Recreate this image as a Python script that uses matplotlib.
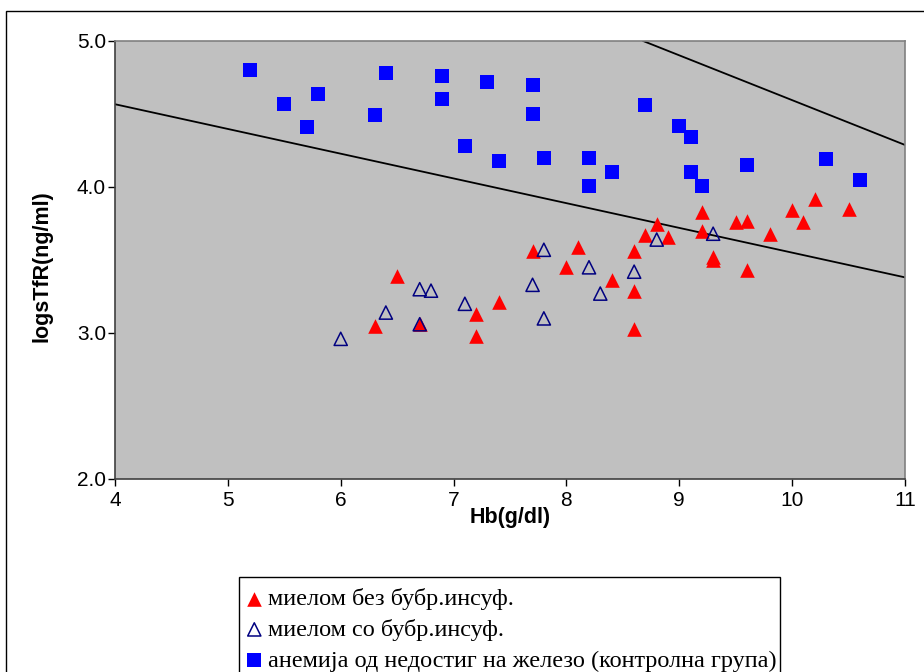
import numpy as np
import matplotlib
matplotlib.use("Agg")
import matplotlib.pyplot as plt
from matplotlib.patches import Rectangle
from matplotlib.ticker import FormatStrFormatter

# red filled triangles: myeloma without renal insufficiency
red_x = [6.3, 6.5, 6.7, 7.2, 7.2, 7.4, 7.7, 8.0, 8.1, 8.4, 8.6, 8.6, 8.6, 8.7,
         8.8, 8.9, 9.2, 9.2, 9.3, 9.3, 9.5, 9.6, 9.6, 9.8, 10.0, 10.1, 10.2, 10.5]
red_y = [3.05, 3.39, 3.06, 3.13, 2.98, 3.21, 3.56, 3.45, 3.59, 3.36, 3.56, 3.29, 3.03, 3.67,
         3.75, 3.66, 3.83, 3.70, 3.52, 3.50, 3.76, 3.77, 3.43, 3.68, 3.84, 3.76, 3.92, 3.85]

# open triangles: myeloma with renal insufficiency
open_x = [6.0, 6.4, 6.7, 6.8, 6.7, 7.1, 7.7, 7.8, 7.8, 8.2, 8.3, 8.6, 8.8, 9.3]
open_y = [2.96, 3.14, 3.30, 3.29, 3.06, 3.20, 3.33, 3.57, 3.10, 3.45, 3.27, 3.42, 3.64, 3.68]

# blue squares: iron deficiency anaemia (control group)
blue_x = [5.2, 5.5, 5.8, 5.7, 6.4, 6.3, 6.9, 6.9, 7.3, 7.7, 7.7, 7.1, 7.4, 7.8,
          8.7, 9.0, 9.1, 8.2, 8.4, 8.2, 9.1, 9.2, 9.6, 10.3, 10.6]
blue_y = [4.80, 4.57, 4.64, 4.41, 4.78, 4.49, 4.76, 4.60, 4.72, 4.70, 4.50, 4.28, 4.18, 4.20,
          4.56, 4.42, 4.34, 4.20, 4.10, 4.01, 4.10, 4.01, 4.15, 4.19, 4.05]

# separating lines (end points)
line1_x = [4.0, 11.0]
line1_y = [4.567, 3.381]
line2_x = [8.68, 11.0]
line2_y = [5.0, 4.288]

labels = ["миелом без бубр.инсуф.",
          "миелом со бубр.инсуф.",
          "анемија од недостиг на железо (контролна група)"]

plt.rcParams['font.family'] = ['Liberation Sans', 'DejaVu Sans']

fig = plt.figure(figsize=(9.24, 6.72), dpi=100)
ax = fig.add_axes([115/924, 1 - 479/672, 790/924, 438/672])
ax.set_facecolor('#C0C0C0')

ax.plot(line1_x, line1_y, color='black', lw=1.3, zorder=2)
ax.plot(line2_x, line2_y, color='black', lw=1.3, zorder=2)

h1 = ax.scatter(red_x, red_y, marker='^', s=10.5**2, c='#FF0000', linewidths=0, zorder=3)
h2 = ax.scatter(open_x, open_y, marker='^', s=9.5**2, facecolors='none',
                edgecolors='#000080', linewidths=1.1, zorder=4)
h3 = ax.scatter(blue_x, blue_y, marker='s', s=9.5**2, c='#0000FF', linewidths=0, zorder=3)

ax.set_xlim(4, 11)
ax.set_ylim(2, 5)
ax.set_xticks(np.arange(4, 12, 1))
ax.set_yticks([2.0, 3.0, 4.0, 5.0])
ax.yaxis.set_major_formatter(FormatStrFormatter('%.1f'))
ax.tick_params(direction='out', length=5, width=1, labelsize=15, pad=4)
ax.tick_params(axis='y', pad=1.5)

for side in ['top', 'right']:
    ax.spines[side].set_color('#808080')
    ax.spines[side].set_linewidth(1.2)
for side in ['left', 'bottom']:
    ax.spines[side].set_color('#404040')
    ax.spines[side].set_linewidth(1.2)

ax.set_xlabel('Hb(g/dl)', fontsize=15.5, fontweight='bold')
ax.set_ylabel('logsTfR(ng/ml)', fontsize=15.5, fontweight='bold')
ax.xaxis.set_label_coords(0.5, -0.065)
ax.yaxis.set_label_coords(-0.079, 0.485)

# outer chart frame (cropped at right and bottom)
fig.patches.append(Rectangle((6/924, -0.2), 1.0, 1.2 - 11/672, transform=fig.transFigure,
                             fill=False, edgecolor='black', lw=1))
# legend frame (cropped at bottom)
fig.patches.append(Rectangle((239/924, -0.2), (780 - 239)/924, 0.2 + 1 - 577/672,
                             transform=fig.transFigure, fill=False, edgecolor='black', lw=1))

fig.legend([h1, h2, h3], labels, loc='upper left', bbox_to_anchor=(247/924, 1 - 588/672),
           frameon=False, prop={'family': 'Liberation Serif', 'size': 17.5},
           handlelength=0.6, handletextpad=0.25, labelspacing=0.36, borderaxespad=0,
           borderpad=0.0)

fig.savefig('out.png', dpi=100)
